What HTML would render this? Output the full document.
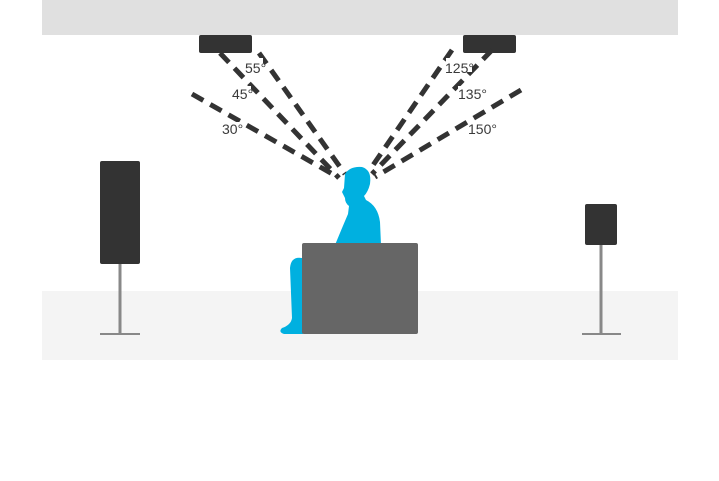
<!DOCTYPE html>
<html><head><style>
html,body{margin:0;padding:0;background:#fff;width:719px;height:481px;overflow:hidden}
svg{display:block}
text{font-family:"Liberation Sans",sans-serif;font-size:14px;fill:#3a3a3a}
</style></head><body>
<svg width="719" height="481" viewBox="0 0 719 481">
<rect x="42" y="0" width="636" height="35" fill="#e0e0e0"/>
<rect x="42" y="291" width="636" height="69" fill="#f4f4f4"/>
<rect x="199" y="35" width="53" height="18" rx="2" fill="#333"/>
<rect x="463" y="35" width="53" height="18" rx="2" fill="#333"/>
<g stroke="#333" stroke-width="5" stroke-dasharray="13,8" fill="none">
<line x1="192" y1="94" x2="336" y2="176"/>
<line x1="220" y1="53" x2="339" y2="178"/>
<line x1="259" y1="53" x2="345" y2="174"/>
<line x1="452" y1="50" x2="369" y2="171"/>
<line x1="492" y1="50" x2="372" y2="174"/>
<line x1="521" y1="90" x2="375" y2="177"/>
</g>
<rect x="243" y="58" width="20" height="14" fill="#fff"/>
<rect x="231" y="86" width="20" height="14" fill="#fff"/>
<rect x="221" y="122" width="20" height="14" fill="#fff"/>
<rect x="446" y="58" width="26" height="14" fill="#fff"/>
<rect x="458" y="86" width="28" height="14" fill="#fff"/>
<rect x="469" y="122" width="28" height="14" fill="#fff"/>
<text x="245" y="73">55°</text>
<text x="232" y="99">45°</text>
<text x="222" y="134">30°</text>
<text x="445" y="73">125°</text>
<text x="458" y="99">135°</text>
<text x="468" y="134">150°</text>
<g fill="#00b0e0">
<path d="M345 174 Q350 166 362 167 Q372 170 370 184 Q368 192 364 196 L366 200 Q378 206 380 222 L381 245 L335 245 Q342 228 348 214 L349 206 Q345 203 345 198 L342 192 L344 188 Z"/>
<path d="M302 258 Q291 256 290 268 L292 318 Q291 325 282 328 Q278 332 284 334 L303 334 Z"/>
</g>
<rect x="302" y="243" width="116" height="91" rx="2" fill="#666"/>
<rect x="100" y="161" width="40" height="103" rx="2" fill="#333"/>
<rect x="118.5" y="264" width="3" height="70" fill="#888"/>
<rect x="100" y="333" width="40" height="2" fill="#888"/>
<rect x="585" y="204" width="32" height="41" rx="2" fill="#333"/>
<rect x="599.5" y="245" width="3" height="89" fill="#888"/>
<rect x="582" y="333" width="39" height="2" fill="#888"/>
</svg>
</body></html>
